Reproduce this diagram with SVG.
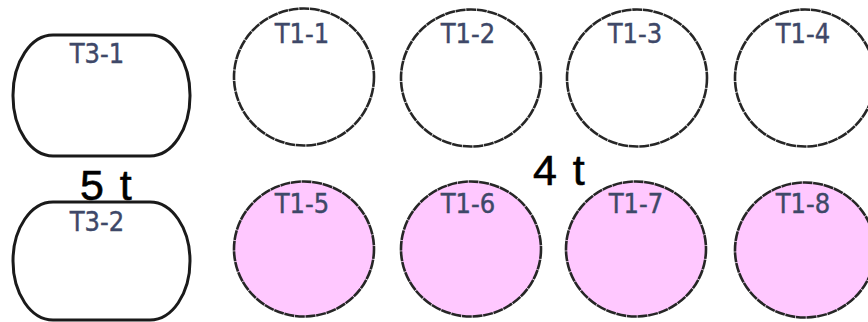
<svg xmlns="http://www.w3.org/2000/svg" width="868" height="322" viewBox="0 0 868 322">
<style>
.t3{fill:#fff;stroke:#1a1a1a;stroke-width:3}
.t1{fill:#fff;stroke:#262626;stroke-width:2.6;stroke-dasharray:10 0.7}
.pk{fill:#ffc8ff}
.lbl{font-family:"DejaVu Sans Condensed","DejaVu Sans",sans-serif;font-stretch:condensed;font-size:27px;fill:#3e4868;stroke:#3e4868;stroke-width:0.4;text-anchor:middle}
.big{font-family:"Liberation Sans",Arial,sans-serif;font-size:43px;fill:#000;stroke:#000;stroke-width:0.6;letter-spacing:2px}
</style>
<rect width="868" height="322" fill="#fff"/>
<g id="T3-1"><rect class="t3" x="13" y="35" width="177" height="121" rx="40" ry="60"/><text class="lbl" x="97" y="63">T3-1</text></g>
<g id="T3-2"><rect class="t3" x="13" y="202" width="177" height="118" rx="40" ry="59"/><text class="lbl" x="97" y="231">T3-2</text></g>
<g id="T1-1"><ellipse class="t1" cx="304" cy="77" rx="70" ry="68.5"/><text class="lbl" x="302" y="43">T1-1</text></g>
<g id="T1-2"><ellipse class="t1" cx="471" cy="78" rx="70" ry="68.5"/><text class="lbl" x="468" y="43">T1-2</text></g>
<g id="T1-3"><ellipse class="t1" cx="637" cy="78" rx="70" ry="68.5"/><text class="lbl" x="635" y="43">T1-3</text></g>
<g id="T1-4"><ellipse class="t1" cx="805" cy="78" rx="70" ry="68.5"/><text class="lbl" x="803" y="43">T1-4</text></g>
<g id="T1-5"><ellipse class="t1 pk" cx="304" cy="249" rx="70" ry="67.5"/><text class="lbl" x="302" y="213">T1-5</text></g>
<g id="T1-6"><ellipse class="t1 pk" cx="471" cy="249" rx="70" ry="67.5"/><text class="lbl" x="468" y="213">T1-6</text></g>
<g id="T1-7"><ellipse class="t1 pk" cx="636" cy="249" rx="70" ry="67.5"/><text class="lbl" x="636" y="213">T1-7</text></g>
<g id="T1-8"><ellipse class="t1 pk" cx="805" cy="250" rx="70" ry="67.5"/><text class="lbl" x="803" y="213">T1-8</text></g>
<g id="connectors"></g>
<text class="big" x="80" y="200">5 t</text>
<text class="big" x="533" y="185">4 t</text>
</svg>
